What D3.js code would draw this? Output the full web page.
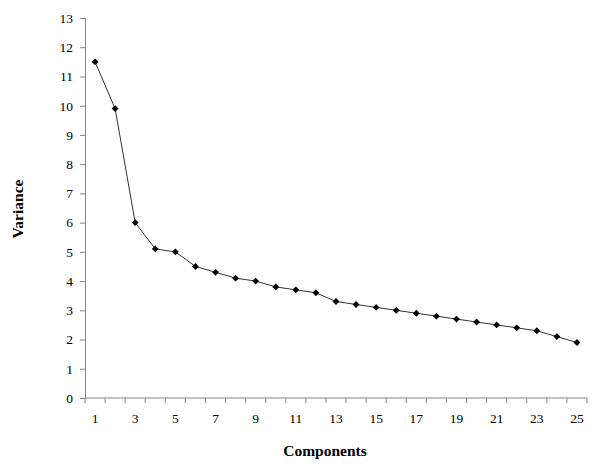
<!DOCTYPE html>
<html>
<head>
<meta charset="utf-8">
<script src="https://cdn.jsdelivr.net/npm/d3@7"></script>
<style>
  body { margin: 0; background: #fff; }
  text { font-family: "Liberation Serif", "Times New Roman", serif; }
</style>
</head>
<body>
<svg id="svg"></svg>
<script>
// scree plot values
const components = d3.range(1, 26);
const variance = [11.5, 9.9, 6.0, 5.1, 5.0, 4.5, 4.3, 4.1, 4.0, 3.8, 3.7, 3.6, 3.3,
    3.2, 3.1, 3.0, 2.9, 2.8, 2.7, 2.6, 2.5, 2.4, 2.3, 2.1, 1.9];
const yTicks = d3.range(0, 14);
const xLabels = components.filter(d => d % 2 === 1);

const width = 600;
const height = 465;
const margin = { top: 18, right: 13, bottom: 67, left: 85 };
const chartWidth = width - margin.left - margin.right;
const chartHeight = height - margin.top - margin.bottom;

let svg = d3.select("#svg").attr("width", width).attr("height", height);

let chart = svg.append("g")
    .attr("transform", "translate(" + margin.left + "," + margin.top + ")");

let xScale = d3.scaleBand()
    .domain(components)
    .range([0, chartWidth]);

let yScale = d3.scaleLinear()
    .domain([0, 13])
    .range([chartHeight, 0]);

const axisColor = "#868686";

// y-axis
let yAxis = chart.append("g")
    .call(d3.axisLeft(yScale).tickValues(yTicks).tickSize(5).tickPadding(7));
yAxis.select(".domain").attr("stroke", axisColor);
yAxis.selectAll(".tick line").attr("stroke", axisColor);
yAxis.selectAll("text").style("font-size", "13.5px").attr("fill", "#000");

// x-axis: ticks sit between categories
let xAxis = chart.append("g")
    .attr("transform", `translate(0,${chartHeight})`);
xAxis.append("line")
    .attr("x1", 0).attr("x2", chartWidth)
    .attr("stroke", axisColor);
xAxis.selectAll(".xtick")
    .data(components.concat([26]))
    .enter().append("line")
    .attr("x1", d => d === 26 ? chartWidth : xScale(d))
    .attr("x2", d => d === 26 ? chartWidth : xScale(d))
    .attr("y1", 0).attr("y2", 5)
    .attr("stroke", axisColor);
xAxis.selectAll(".xlabel")
    .data(xLabels)
    .enter().append("text")
    .attr("x", d => xScale(d) + xScale.bandwidth() / 2)
    .attr("y", 25)
    .attr("text-anchor", "middle")
    .style("font-size", "13.5px")
    .text(d => d);

// line and markers
let line = d3.line()
    .x((d, i) => xScale(components[i]) + xScale.bandwidth() / 2)
    .y(d => yScale(d));

chart.append("path")
    .datum(variance)
    .attr("d", line)
    .attr("fill", "none")
    .attr("stroke", "#333")
    .attr("stroke-width", 1);

chart.selectAll(".marker")
    .data(variance)
    .enter().append("path")
    .attr("d", d3.symbol().type(d3.symbolDiamond2).size(30))
    .attr("transform", (d, i) => `translate(${xScale(components[i]) + xScale.bandwidth() / 2},${yScale(d)})`)
    .attr("fill", "#000");

// axis titles
svg.append("text")
    .attr("x", 325)
    .attr("y", 456)
    .attr("text-anchor", "middle")
    .style("font-size", "15.5px")
    .style("font-weight", "bold")
    .text("Components");

svg.append("text")
    .attr("transform", `translate(23,209) rotate(-90)`)
    .attr("text-anchor", "middle")
    .style("font-size", "15.5px")
    .style("font-weight", "bold")
    .text("Variance");
</script>
</body>
</html>
